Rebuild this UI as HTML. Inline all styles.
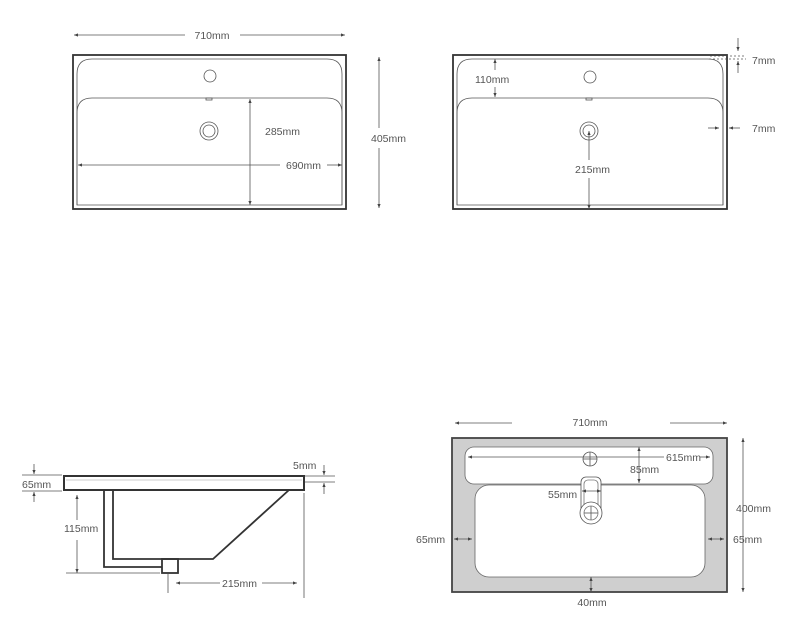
<!DOCTYPE html>
<html><head><meta charset="utf-8"><style>
html,body{margin:0;padding:0;background:#fff;}
svg{display:block}
text{font-family:"Liberation Sans",sans-serif;font-size:10.5px;fill:#555;}
</style></head><body>
<svg width="800" height="634" viewBox="0 0 800 634" xmlns="http://www.w3.org/2000/svg">
<defs>
<marker id="a" viewBox="0 0 10 10" refX="10" refY="5" markerWidth="5" markerHeight="5" orient="auto-start-reverse"><path d="M0,1 L10,5 L0,9 z" fill="#444"/></marker>
</defs>
<g stroke="#555" stroke-width="0.8" fill="none">
<!-- Drawing 1 -->
<rect x="73" y="55" width="273" height="154" stroke="#333" stroke-width="1.8"/>
<path d="M77,205 V74 Q77,59 92,59 H327 Q342,59 342,74 V205" />
<path d="M77,205 V113 Q77,98 92,98 H327 Q342,98 342,113 V205 Z" />
<circle cx="210" cy="76" r="6"/>
<circle cx="209" cy="131" r="9"/><circle cx="209" cy="131" r="6"/>
<rect x="206" y="98" width="6" height="2"/>
<line x1="74" y1="35" x2="185" y2="35" marker-start="url(#a)"/>
<line x1="240" y1="35" x2="345" y2="35" marker-end="url(#a)"/>
<line x1="379" y1="57" x2="379" y2="128" marker-start="url(#a)"/>
<line x1="379" y1="148" x2="379" y2="208" marker-end="url(#a)"/>
<line x1="250" y1="99" x2="250" y2="205" marker-start="url(#a)" marker-end="url(#a)"/>
<line x1="78" y1="165" x2="280" y2="165" marker-start="url(#a)"/>
<line x1="327" y1="165" x2="342" y2="165" marker-end="url(#a)"/>
<!-- Drawing 2 -->
<rect x="453" y="55" width="274" height="154" stroke="#333" stroke-width="1.8"/>
<path d="M457,205 V74 Q457,59 472,59 H708 Q723,59 723,74 V205" />
<path d="M457,205 V113 Q457,98 472,98 H708 Q723,98 723,113 V205 Z" />
<circle cx="590" cy="77" r="6"/>
<circle cx="589" cy="131" r="9"/><circle cx="589" cy="131" r="6"/>
<rect x="586" y="98" width="6" height="2"/>
<line x1="495" y1="70" x2="495" y2="59" marker-end="url(#a)"/>
<line x1="495" y1="87" x2="495" y2="97" marker-end="url(#a)"/>
<line x1="589" y1="160" x2="589" y2="131" marker-end="url(#a)"/>
<line x1="589" y1="178" x2="589" y2="209" marker-end="url(#a)"/>
<line x1="738" y1="38" x2="738" y2="51" marker-end="url(#a)"/>
<line x1="738" y1="73" x2="738" y2="61" marker-end="url(#a)"/>
<line x1="710" y1="56" x2="746" y2="56" stroke-dasharray="2,2"/>
<line x1="709" y1="59" x2="746" y2="59" stroke-dasharray="2,2"/>
<line x1="708" y1="128" x2="719" y2="128" marker-end="url(#a)"/>
<line x1="740" y1="128" x2="729" y2="128" marker-end="url(#a)"/>
<!-- Drawing 3 -->
<rect x="64" y="476" width="240" height="14" stroke="#333" stroke-width="2"/>
<line x1="66" y1="480" x2="302" y2="480" stroke="#bbb"/>
<path d="M104,490 V567 H162" stroke="#333" stroke-width="1.8"/>
<path d="M113,490 V559 H213 L289,490" stroke="#333" stroke-width="1.8"/>
<rect x="162" y="559" width="16" height="14" stroke="#333" stroke-width="1.8"/>
<line x1="22" y1="475" x2="62" y2="475"/>
<line x1="22" y1="491" x2="62" y2="491"/>
<line x1="34" y1="464" x2="34" y2="474" marker-end="url(#a)"/>
<line x1="34" y1="502" x2="34" y2="492" marker-end="url(#a)"/>
<line x1="305" y1="476" x2="335" y2="476"/>
<line x1="305" y1="482" x2="335" y2="482"/>
<line x1="324" y1="465" x2="324" y2="475" marker-end="url(#a)"/>
<line x1="324" y1="494" x2="324" y2="483" marker-end="url(#a)"/>
<line x1="77" y1="495" x2="77" y2="520" marker-start="url(#a)"/>
<line x1="77" y1="540" x2="77" y2="573" marker-end="url(#a)"/>
<line x1="66" y1="573" x2="160" y2="573"/>
<line x1="168" y1="574" x2="168" y2="593"/>
<line x1="304" y1="493" x2="304" y2="598"/>
<line x1="176" y1="583" x2="220" y2="583" marker-start="url(#a)"/>
<line x1="262" y1="583" x2="297" y2="583" marker-end="url(#a)"/>
<!-- Drawing 4 -->
<rect x="452" y="438" width="275" height="154" fill="#cfcfcf" stroke="#444" stroke-width="1.8"/>
<rect x="465" y="447" width="248" height="37" rx="9" fill="#fff" stroke="#666"/>
<rect x="475" y="485" width="230" height="92" rx="14" fill="#fff" stroke="#666"/>
<rect x="581" y="477" width="20" height="40" rx="5" fill="#fff" stroke="#555"/>
<rect x="584" y="480" width="14" height="34" rx="4" fill="none" stroke="#777"/>
<circle cx="591" cy="513" r="11" fill="#fff" stroke="#555"/>
<circle cx="591" cy="513" r="7" stroke="#777"/>
<line x1="584" y1="513" x2="598" y2="513"/><line x1="591" y1="506" x2="591" y2="520"/>
<circle cx="590" cy="459" r="7"/>
<line x1="583" y1="459" x2="597" y2="459"/><line x1="590" y1="452" x2="590" y2="466"/>
<line x1="468" y1="457" x2="664" y2="457" marker-start="url(#a)"/>
<line x1="700" y1="457" x2="710" y2="457" marker-end="url(#a)"/>
<line x1="639" y1="447" x2="639" y2="483" marker-start="url(#a)" marker-end="url(#a)"/>
<line x1="582" y1="491" x2="601" y2="491" marker-start="url(#a)" marker-end="url(#a)"/>
<line x1="455" y1="423" x2="512" y2="423" marker-start="url(#a)"/>
<line x1="670" y1="423" x2="727" y2="423" marker-end="url(#a)"/>
<line x1="743" y1="438" x2="743" y2="592" marker-start="url(#a)" marker-end="url(#a)"/>
<line x1="454" y1="539" x2="472" y2="539" marker-start="url(#a)" marker-end="url(#a)"/>
<line x1="708" y1="539" x2="724" y2="539" marker-start="url(#a)" marker-end="url(#a)"/>
<line x1="591" y1="577" x2="591" y2="592" marker-start="url(#a)" marker-end="url(#a)"/>
</g>
<!-- labels -->
<text x="212" y="39" text-anchor="middle">710mm</text>
<text x="371" y="142">405mm</text>
<text x="252" y="135" fill="#fff" stroke="none"> </text>
<text x="265" y="135">285mm</text>
<text x="286" y="169">690mm</text>
<text x="475" y="83">110mm</text>
<text x="575" y="173">215mm</text>
<text x="752" y="64">7mm</text>
<text x="752" y="132">7mm</text>
<text x="22" y="488">65mm</text>
<text x="293" y="469">5mm</text>
<text x="64" y="532">115mm</text>
<text x="222" y="587">215mm</text>
<text x="590" y="426" text-anchor="middle">710mm</text>
<text x="666" y="461">615mm</text>
<text x="630" y="473">85mm</text>
<text x="548" y="498">55mm</text>
<text x="736" y="512">400mm</text>
<text x="416" y="543">65mm</text>
<text x="733" y="543">65mm</text>
<text x="592" y="606" text-anchor="middle">40mm</text>
</svg>
</body></html>
